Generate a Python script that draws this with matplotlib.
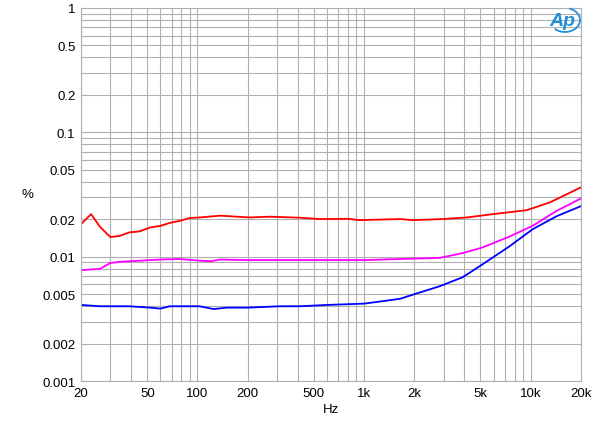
import numpy as np
import matplotlib.pyplot as plt
from matplotlib.patches import Arc
from matplotlib.ticker import FixedLocator, NullFormatter, LogLocator

plt.rcParams['font.family'] = ['Liberation Sans', 'DejaVu Sans']

# dados (Hz, %)
red_f = [20, 23, 26, 30, 34, 39, 45, 52, 60, 68, 78, 90, 103, 137, 206, 272, 413, 547, 800, 940,
         1630, 1960, 2970, 4140, 5920, 9470, 13000, 20000]
red_v = [0.0183, 0.022, 0.0174, 0.0144, 0.0147, 0.0157, 0.016, 0.0172, 0.0177, 0.0187, 0.0194,
         0.0205, 0.0207, 0.0214, 0.0207, 0.021, 0.0206, 0.0201, 0.0202, 0.0197,
         0.0201, 0.0197, 0.0201, 0.0207, 0.022, 0.0237, 0.0273, 0.0361]

mag_f = [20, 26, 30, 34, 45, 60, 78, 103, 120, 137, 200, 500, 1000, 1650, 2850, 3910, 5160,
         7490, 10290, 14340, 20000]
mag_v = [0.0078, 0.0080, 0.0089, 0.0091, 0.0093, 0.0095, 0.0096, 0.0093, 0.0092, 0.0095, 0.0094,
         0.0094, 0.0094, 0.0096, 0.0098, 0.0107, 0.0119, 0.01456, 0.01774, 0.0234, 0.0294]

blue_f = [20, 26, 39, 52, 60, 68, 103, 125, 150, 200, 311, 413, 600, 1000, 1300, 1650, 2100,
          2850, 3910, 5160, 7490, 10290, 14340, 20000]
blue_v = [0.0041, 0.0040, 0.0040, 0.0039, 0.00383, 0.0040, 0.0040, 0.0038, 0.0039, 0.0039, 0.0040, 0.0040,
          0.0041, 0.0042, 0.0044, 0.0046, 0.0051, 0.0058, 0.00685, 0.00872, 0.01217, 0.01667, 0.0212, 0.0255]

x_ticks = [20, 50, 100, 200, 500, 1000, 2000, 5000, 10000, 20000]
x_labels = ['20', '50', '100', '200', '500', '1k', '2k', '5k', '10k', '20k']
y_ticks = [0.001, 0.002, 0.005, 0.01, 0.02, 0.05, 0.1, 0.2, 0.5, 1]
y_labels = ['0.001', '0.002', '0.005', '0.01', '0.02', '0.05', '0.1', '0.2', '0.5', '1']

fig = plt.figure(figsize=(6, 4.27), dpi=100)
ax = fig.add_axes([0.135, 0.105, 0.833, 0.874])

ax.plot(red_f, red_v, color='#ff0000', lw=1.3)
ax.plot(mag_f, mag_v, color='#ff00ff', lw=1.3)
ax.plot(blue_f, blue_v, color='#0000ff', lw=1.3)

ax.set_xscale('log')
ax.set_yscale('log')
ax.set_xlim(20, 20000)
ax.set_ylim(0.001, 1)

ax.xaxis.set_major_locator(FixedLocator(x_ticks))
ax.set_xticklabels(x_labels)
ax.xaxis.set_minor_locator(LogLocator(base=10, subs=np.arange(2, 10)))
ax.xaxis.set_minor_formatter(NullFormatter())
ax.yaxis.set_major_locator(FixedLocator(y_ticks))
ax.set_yticklabels(y_labels)
ax.yaxis.set_minor_locator(LogLocator(base=10, subs=np.arange(2, 10)))
ax.yaxis.set_minor_formatter(NullFormatter())

ax.grid(True, which='both', color='#b0b0b0', lw=0.8)
ax.tick_params(which='both', length=0, labelsize=9.5, pad=4)
for s in ax.spines.values():
    s.set_color('#b0b0b0')
    s.set_linewidth(0.8)

fig.text(27 / 600, 1 - 195 / 427, '%', fontsize=9.5, ha='center', va='center')
fig.text(331 / 600, 1 - 410 / 427, 'Hz', fontsize=9.5, ha='center', va='center')

# logo AP
logo_col = '#1f8fd8'
fig.text(562 / 600, 1 - 21 / 427, 'Ap', fontsize=14, color=logo_col, style='italic',
         fontweight='bold', ha='center', va='center')
fig.add_artist(Arc((565 / 600, 1 - 21 / 427), 30 / 600, 24 / 427, angle=0, theta1=-130, theta2=75,
                   transform=fig.transFigure, color=logo_col, lw=1.3))

fig.savefig('out.png', dpi=100)
